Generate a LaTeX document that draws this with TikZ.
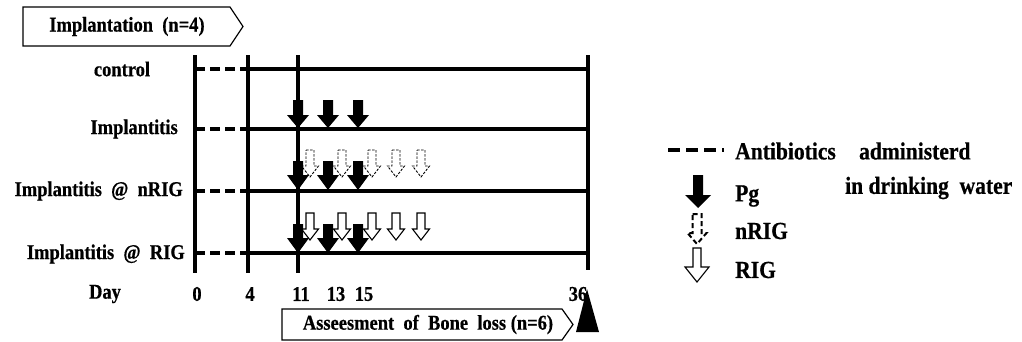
\documentclass[tikz,border=0pt]{standalone}
\usepackage{fontspec}
\setmainfont{Liberation Serif}[FakeStretch=0.88,BoldFeatures={FakeBold=0.6}]
\begin{document}
\begin{tikzpicture}[x=1pt,y=-1pt,
  lbl/.style={font=\fontsize{21}{24}\selectfont\bfseries, inner sep=0pt},
  leg/.style={font=\fontsize{24.5}{28}\selectfont\bfseries, inner sep=0pt, anchor=west},
  grid/.style={line width=3.6pt},
  row/.style={line width=3.8pt},
  abx/.style={line width=3.8pt, dash pattern=on 10pt off 5pt},
  pent/.style={draw, line width=1.2pt, fill=white},
  pgarr/.style={fill=black},
  narr/.style={draw, line width=0.9pt, dash pattern=on 2.5pt off 1.5pt, fill=white},
  lnarr/.style={draw, line width=2pt, dash pattern=on 5pt off 3pt, fill=white},
  rarr/.style={draw, line width=1.1pt, fill=white}]
\useasboundingbox (0,0) rectangle (1022,341);
\newcommand\blkarrow[7]{%
  \path[#1] ({#2-#6},#3) -- ({#2+#6},#3) -- ({#2+#6},#4) -- ({#2+#7},#4) -- (#2,#5) -- ({#2-#7},#4) -- ({#2-#6},#4) -- cycle;}
% header pentagon
\draw[pent] (23,7) -- (230,7) -- (243,26.5) -- (230,46) -- (23,46) -- cycle;
\node[lbl] (impl) at (127,26.5) {Implantation\ \ (n=4)};
% grid coordinates
\foreach \n/\x in {d0/195,d4/248,d11/298,d36/588}{
  \coordinate (\n t) at (\x,55);
  \coordinate (\n b) at (\x,273);
}
\draw[grid] (d0t) -- (d0b);
\draw[grid] (d4t) -- (d4b);
\draw[grid] (d11t) -- (d11b);
\draw[grid] (d36t) -- (588,270);
\foreach \r/\y in {r1/69,r2/129,r3/191,r4/253}{
  \coordinate (\r a) at (195,\y);
  \coordinate (\r b) at (248,\y);
  \coordinate (\r c) at (586,\y);
  \draw[abx] (\r a) -- (\r b);
  \draw[row] (\r b) -- (\r c);
}
% row labels
\node[lbl] (lc) at (122,69) {control};
\node[lbl, anchor=east] (li) at (178,129) {Implantitis};
\node[lbl, anchor=east] (ln) at (183,191) {Implantitis\ \ @\ \ nRIG};
\node[lbl, anchor=east] (lr) at (185,254) {Implantitis\ \ @\ \ RIG};
% open arrows
\foreach \x in {310,342,372,396,421}{
  \blkarrow{narr}{\x}{150}{166}{177}{4}{8.5}
  \blkarrow{rarr}{\x}{213}{229}{240}{4}{8.5}
}
% Pg arrows
\foreach \x in {298,328,358}{
  \blkarrow{pgarr}{\x}{100}{115}{128}{5}{11}
  \blkarrow{pgarr}{\x}{161}{175}{190}{5}{11}
  \blkarrow{pgarr}{\x}{224}{238}{253}{5}{11}
}
% day labels
\node[lbl] (day) at (105,294) {Day};
\node[lbl] (t0) at (197,294) {0};
\node[lbl] (t4) at (250,294) {4};
\node[lbl] (t11) at (301,294) {11};
\node[lbl] (t13) at (336,294) {13};
\node[lbl] (t15) at (364,294) {15};
\node[lbl] (t36) at (578,294) {36};
% bottom pentagon
\draw[pent] (282,309) -- (562,309) -- (573,324.5) -- (562,340) -- (282,340) -- cycle;
\node[lbl] (ass) at (428,324.5) {Asseesment\ \ of\ \ Bone\ \ loss\ (n=6)};
\fill (587,289) -- (599,332) -- (576,332) -- cycle;
% legend
\coordinate (la) at (668,150);
\coordinate (lb) at (724,150);
\draw[line width=3.8pt, dash pattern=on 12pt off 6pt] (la) -- (lb);
\node[leg] (lab) at (735,151) {Antibiotics\hspace{0.95em}administerd};
\node[leg] (ldw) at (845,188) {in\ drinking\ \ water};
\blkarrow{pgarr}{698}{175}{195}{208}{5}{13}
\node[leg] (lpg) at (735,196) {Pg};
\blkarrow{lnarr}{697}{214}{233}{244}{4.5}{9.5}
\node[leg] (lnr) at (735,231) {nRIG};
\blkarrow{rarr}{697}{248}{267}{282}{4}{12}
\node[leg] (lrg) at (735,270) {RIG};
\end{tikzpicture}
\end{document}
